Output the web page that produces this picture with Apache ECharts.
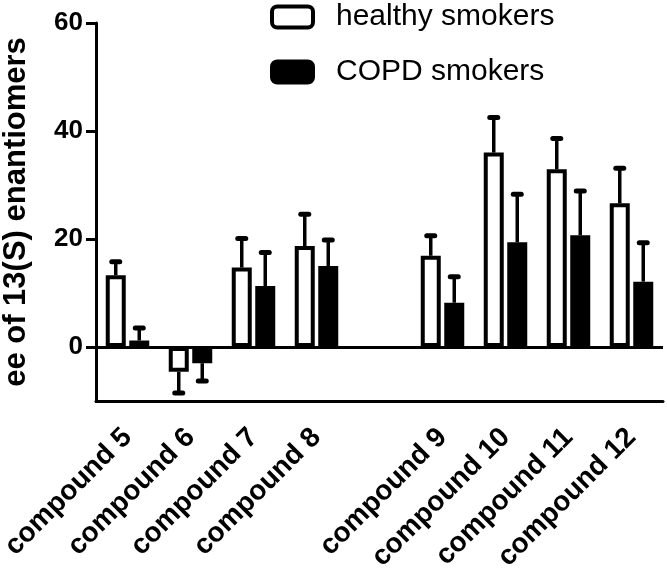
<!DOCTYPE html>
<html><head><meta charset="utf-8">
<script src="https://cdn.jsdelivr.net/npm/echarts@6/dist/echarts.min.js"></script>
<style>html,body{margin:0;padding:0;background:#fff}#c{width:667px;height:571px}</style>
</head><body><div id="c"></div>
<script>
// ---- data ----
const categories = ['compound 5','compound 6','compound 7','compound 8','','compound 9','compound 10','compound 11','compound 12'];
const healthyMean = [13.3, -4.6, 14.7, 18.7, null, 16.9, 36.0, 32.9, 26.6];
const healthyErr  = [2.5,  3.9,  5.4,  5.9,  null, 3.7,  6.5,  5.7,  6.5];
const copdMean    = [1.2,  -3.0, 11.3, 15.0, null, 8.2,  19.4, 20.7, 12.1];
const copdErr     = [2.3,  3.3,  6.2,  4.8,  null, 4.8,  8.9,  8.2,  7.2];
const yTickValues = [0, 20, 40, 60];
const seriesNames = ['healthy smokers', 'COPD smokers'];

// ---- style ----
const FONT = 'Liberation Sans, Arial, sans-serif';
const BAR_W = 20, BAR_GAP_PX = 3.5, BORDER = 4;
const OFFSET = (BAR_W + BAR_GAP_PX) / 2;

function errData(means, errs) {
  const out = [];
  means.forEach((m, i) => { if (m !== null) out.push([i, m, errs[i]]); });
  return out;
}
function errRender(sign) {
  return function (params, api) {
    const i = api.value(0), m = api.value(1), e = api.value(2);
    const p0 = api.coord([i, m]);
    const p1 = api.coord([i, m >= 0 ? m + e : m - e]);
    const x = p0[0] + sign * OFFSET;
    return { type: 'group', children: [
      { type: 'line', shape: { x1: x, y1: p0[1], x2: x, y2: p1[1] }, style: { stroke: '#000', lineWidth: 3.5 } },
      { type: 'line', shape: { x1: x - 4, y1: p1[1], x2: x + 4, y2: p1[1] }, style: { stroke: '#000', lineWidth: 5, lineCap: 'round' } }
    ]};
  };
}

const chart = echarts.init(document.getElementById('c'), null, { renderer: 'canvas' });
chart.setOption({
  animation: false,
  backgroundColor: '#fff',
  grid: { left: 96, right: 4, top: 23, bottom: 170, containLabel: false, outerBoundsMode: 'none' },
  legend: {
    orient: 'vertical', left: 270, top: 2, padding: 0, itemWidth: 41, itemHeight: 21, itemGap: 25,
    icon: 'roundRect',
    textStyle: { fontFamily: FONT, fontSize: 30, color: '#000', padding: [0, 0, 0, 18] },
    data: [
      { name: seriesNames[0], itemStyle: { color: '#fff', borderColor: '#000', borderWidth: BORDER } },
      { name: seriesNames[1], itemStyle: { color: '#000', borderColor: '#000', borderWidth: BORDER } }
    ]
  },
  xAxis: {
    type: 'category', data: categories, position: 'bottom',
    axisLine: { onZero: false, lineStyle: { color: '#000', width: 3 } },
    axisTick: { alignWithLabel: true, length: 10, lineStyle: { color: '#000', width: 3 } },
    axisLabel: { interval: 0, rotate: 45, margin: 32, color: '#000', fontFamily: FONT, fontWeight: 'bold', fontSize: 28 },
    splitLine: { show: false }
  },
  yAxis: {
    type: 'value', min: -10, max: 60, interval: 10,
    name: 'ee of 13(S) enantiomers', nameLocation: 'middle', nameRotate: 90, nameGap: 64,
    nameTextStyle: { color: '#000', fontFamily: FONT, fontWeight: 'bold', fontSize: 31 },
    axisLine: { show: true, lineStyle: { color: '#000', width: 3 } },
    axisTick: { show: true, length: 10, customValues: yTickValues, lineStyle: { color: '#000', width: 3 } },
    axisLabel: { customValues: yTickValues, margin: 13, color: '#000', fontFamily: FONT, fontWeight: 'bold', fontSize: 26 },
    splitLine: { show: false }
  },
  series: [
    {
      name: seriesNames[0], type: 'bar', data: healthyMean, barWidth: BAR_W,
      barGap: (BAR_GAP_PX / BAR_W * 100) + '%',
      itemStyle: { color: '#fff', borderColor: '#000', borderWidth: BORDER },
      markLine: { silent: true, symbol: 'none', label: { show: false },
        lineStyle: { color: '#000', width: 3, type: 'solid' }, data: [{ yAxis: 0 }] },
      z: 2
    },
    {
      name: seriesNames[1], type: 'bar', data: copdMean, barWidth: BAR_W,
      itemStyle: { color: '#000', borderColor: '#000', borderWidth: BORDER },
      z: 2
    },
    { type: 'custom', name: 'err1', data: errData(healthyMean, healthyErr), renderItem: errRender(-1), encode: { x: 0, y: 1 }, z: 3 },
    { type: 'custom', name: 'err2', data: errData(copdMean, copdErr), renderItem: errRender(1), encode: { x: 0, y: 1 }, z: 3 }
  ]
});
</script>
</body></html>
